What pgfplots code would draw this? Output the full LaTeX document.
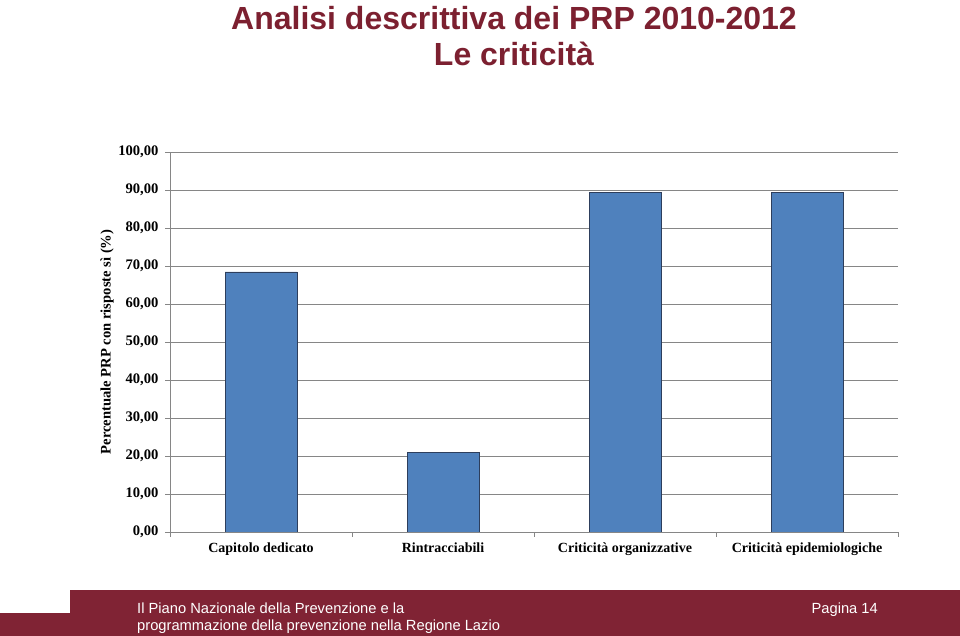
\documentclass[border=0pt]{standalone}
\usepackage{pgfplots}
\pgfplotsset{compat=1.18}
\usepackage{fontspec}
\setmainfont{Liberation Serif}
\newfontfamily\arialfont{Liberation Sans}
\definecolor{titlered}{RGB}{124,32,48}
\definecolor{footred}{RGB}{128,35,52}
\definecolor{barblue}{RGB}{79,129,189}
\definecolor{baredge}{RGB}{45,62,92}
\definecolor{axgray}{RGB}{134,134,134}
\begin{document}
\begin{tikzpicture}[x=1pt,y=1pt]
\path[use as bounding box] (0pt,0pt) rectangle (960pt,636pt);
% footer
\fill[footred] (70pt,0pt) -- (70pt,46pt) -- (960pt,46pt) -- (960pt,0pt) -- cycle;
\fill[footred] (0pt,0pt) rectangle (70pt,23pt);
\node[anchor=base west,text=white,font=\arialfont\fontsize{14.7}{16}\selectfont,inner sep=0] at (137pt,22pt) {Il Piano Nazionale della Prevenzione e la};
\node[anchor=base west,text=white,font=\arialfont\fontsize{14.7}{16}\selectfont,inner sep=0] at (137pt,5pt) {programmazione della prevenzione nella Regione Lazio};
\node[anchor=base east,text=white,font=\arialfont\fontsize{14.7}{16}\selectfont,inner sep=0] at (878pt,22pt) {Pagina 14};
% title
\node[anchor=base,text=titlered,font=\arialfont\bfseries\fontsize{32}{36}\selectfont,inner sep=0] at (514pt,606pt) {Analisi descrittiva dei PRP 2010-2012};
\node[anchor=base,text=titlered,font=\arialfont\bfseries\fontsize{32}{36}\selectfont,inner sep=0] at (514pt,570pt) {Le criticità};
\begin{axis}[
  at={(170pt,104pt)}, anchor=south west,
  scale only axis, width=728pt, height=380pt,
  xmin=-0.5, xmax=3.5, ymin=0, ymax=100,
  axis x line*=bottom, axis y line*=left,
  axis line style={axgray, line width=0.8pt},
  ytick={0,10,...,100},
  xtick={-0.5,0.5,1.5,2.5,3.5},
  x tick label as interval,
  xticklabels={Capitolo dedicato,Rintracciabili,Criticità organizzative,Criticità epidemiologiche},
  tick align=outside,
  major tick length=5pt,
  tick style={axgray, line width=0.8pt},
  ymajorgrids,
  grid style={axgray, line width=0.7pt},
  yticklabel style={font=\bfseries\fontsize{14.6}{16}\selectfont, xshift=-3pt, /pgf/number format/.cd, fixed, fixed zerofill, precision=2, use comma, assume math mode=true},
  xticklabel style={font=\bfseries\fontsize{14}{16}\selectfont, yshift=-2pt},
  every axis y label/.style={at={(axis description cs:-0.0865,0.5)}, rotate=90, anchor=center, font=\bfseries\fontsize{14.6}{16}\selectfont},
  ylabel={Percentuale PRP con risposte sì (\%)},
  ybar, bar width=72pt, bar shift=0pt,
]
\addplot[fill=barblue, draw=baredge, line width=0.8pt] coordinates {(0,68.42) (1,21.05) (2,89.47) (3,89.47)};
\end{axis}
\end{tikzpicture}
\end{document}
